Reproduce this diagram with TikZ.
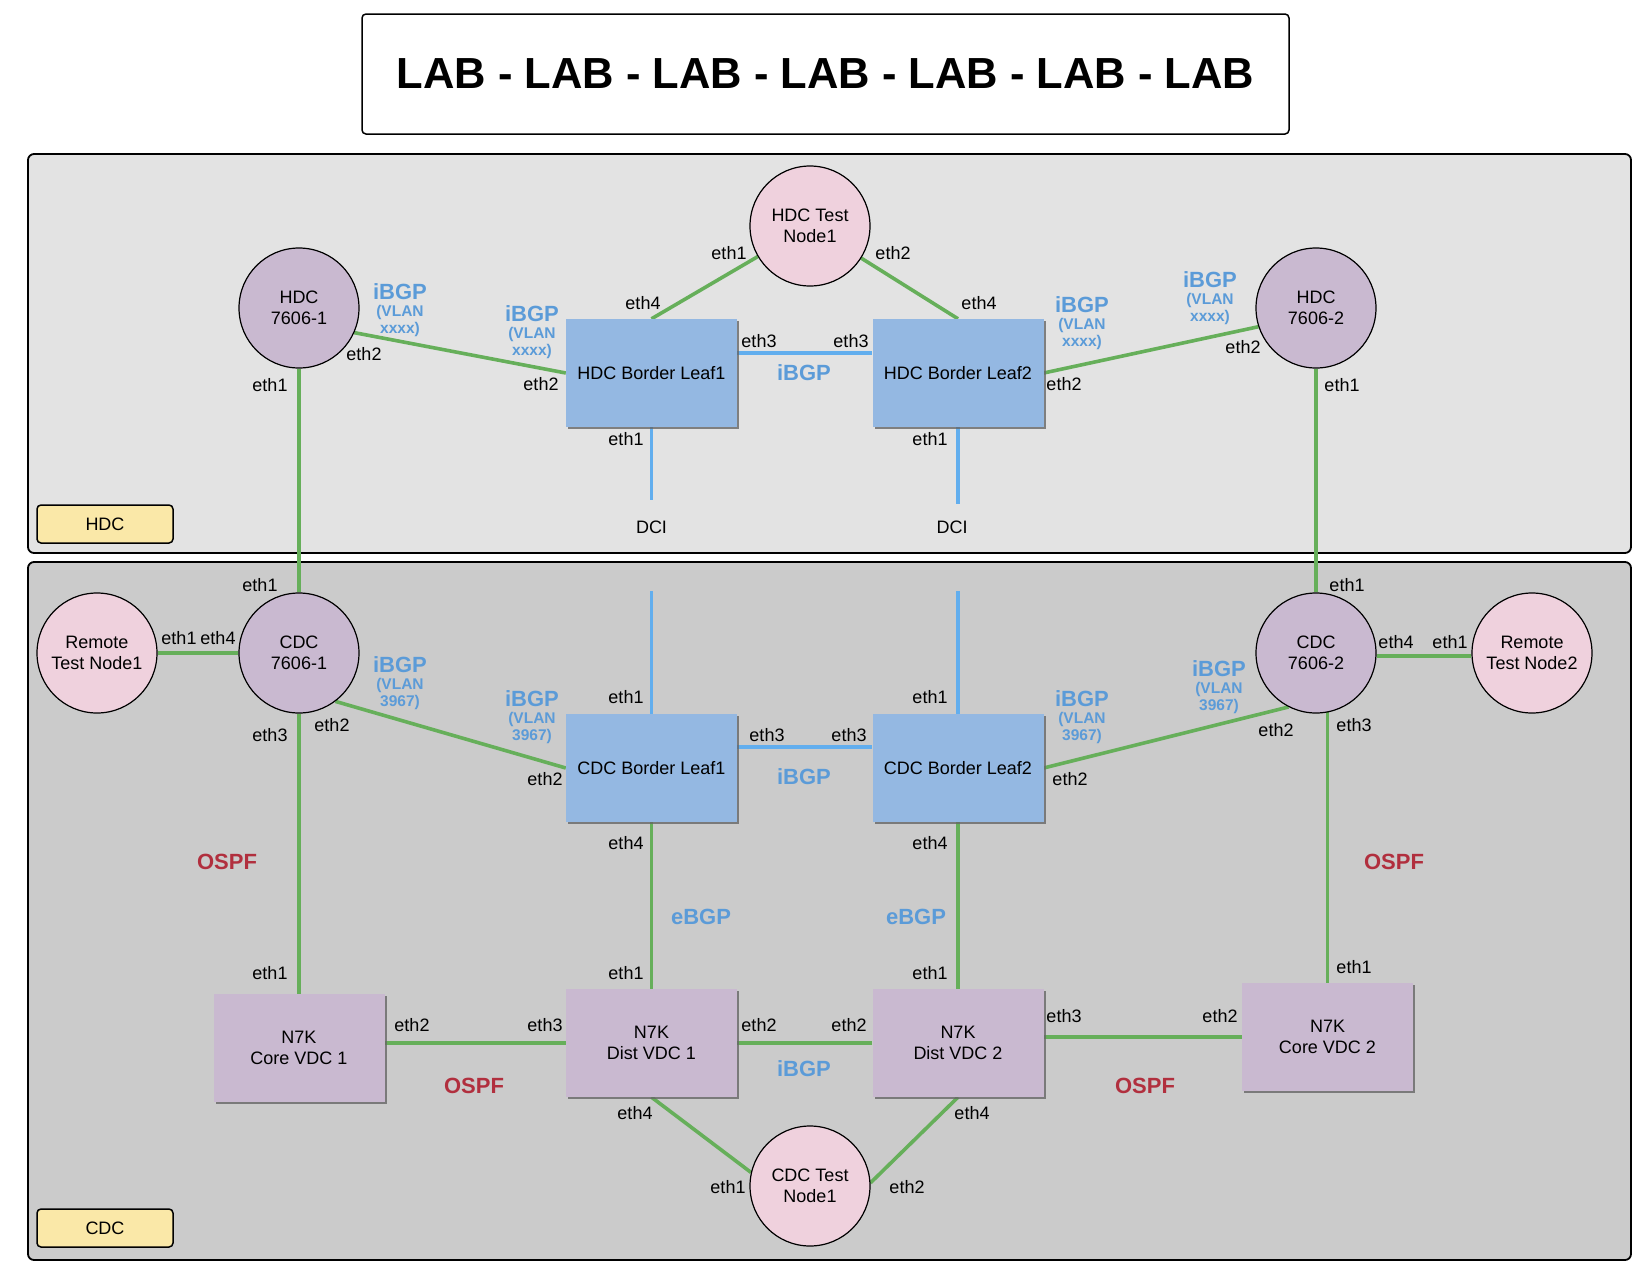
\documentclass[tikz,border=0pt]{standalone}
\usepackage{fontspec}
\setmainfont{Liberation Sans}
\usetikzlibrary{shadows}
\pgfdeclarelayer{back}
\pgfdeclarelayer{edges}
\pgfsetlayers{back,edges,main}
\definecolor{hdcbg}{HTML}{E3E3E3}
\definecolor{cdcbg}{HTML}{CBCBCB}
\definecolor{lav}{HTML}{C9B9D0}
\definecolor{pinkn}{HTML}{EFD1DD}
\definecolor{leafblue}{HTML}{94B8E2}
\definecolor{tagyellow}{HTML}{FAE8A8}
\definecolor{lgreen}{HTML}{66AF5A}
\definecolor{lblue}{HTML}{62AEEE}
\definecolor{txtblue}{HTML}{5B9BD8}
\definecolor{ospfred}{HTML}{B12F3E}
\newcommand\nfnt{\fontsize{18}{21}\selectfont}
\begin{document}
\begin{tikzpicture}[x=1pt,y=-1pt,
  dev/.style={circle,draw=black,line width=1.2pt,minimum size=120pt,inner sep=0pt,align=center,font=\nfnt},
  routr/.style={dev,fill=lav},
  tnode/.style={dev,fill=pinkn},
  devbox/.style={rectangle,minimum width=171pt,minimum height=108pt,inner sep=0pt,align=center,font=\nfnt,
    drop shadow={shadow xshift=2pt,shadow yshift=-2pt,fill=black!60,opacity=0.8}},
  leaf/.style={devbox,fill=leafblue},
  nsw/.style={devbox,fill=lav},
  eth/.style={font=\nfnt,inner sep=0pt},
  proto/.style={font={\fontsize{22}{24}\selectfont\bfseries},text=txtblue,inner sep=0pt},
  vlan/.style={font={\fontsize{15.5}{17}\selectfont\bfseries},text=txtblue,align=center,inner sep=0pt},
  ospf/.style={font={\fontsize{22}{24}\selectfont\bfseries},text=ospfred,inner sep=0pt},
  glink/.style={draw=lgreen,line width=3.6pt},
  blink/.style={draw=lblue,line width=3.8pt},
  tag/.style={draw=black,line width=1.5pt,fill=tagyellow,rounded corners=4pt,minimum width=136pt,minimum height=38pt,font=\nfnt,inner sep=0pt},
  zone/.style={draw=black,line width=1.8pt,rounded corners=6pt}
]
\useasboundingbox (0,0) rectangle (1650,1275);

% title
\node[draw=black,line width=1.5pt,rounded corners=4pt,minimum width=927pt,minimum height=120pt,inner sep=0pt,
  font={\fontsize{43.5}{50}\selectfont\bfseries}] (title) at (825.5,74) {LAB - LAB - LAB - LAB - LAB - LAB - LAB};

% zones
\begin{pgfonlayer}{back}
\fill[white] (0,0) rectangle (1650,1275);
\draw[zone,fill=hdcbg] (28,154) rectangle (1631,553);
\draw[zone,fill=cdcbg] (28,562) rectangle (1631,1260);
\end{pgfonlayer}
\node[tag] (hdctag) at (105,524) {HDC};
\node[tag] (cdctag) at (105,1228) {CDC};

% HDC devices
\node[routr] (h76a) at (299,308) {HDC\\7606-1};
\node[routr] (h76b) at (1316,308) {HDC\\7606-2};
\node[tnode] (ht) at (810,226) {HDC Test\\Node1};
\node[leaf] (hl1) at (651.5,373) {HDC Border Leaf1};
\node[leaf] (hl2) at (958,373) {HDC Border Leaf2};
\coordinate (dci1c) at (651.5,500);
\coordinate (dci2c) at (958,504);
\node[eth] (dci1) at (651.5,527) {DCI};
\node[eth] (dci2) at (952,527) {DCI};

% CDC devices
\node[routr] (c76a) at (299,653) {CDC\\7606-1};
\node[routr] (c76b) at (1316,653) {CDC\\7606-2};
\node[tnode] (rem1) at (97,653) {Remote\\Test Node1};
\node[tnode] (rem2) at (1532,653) {Remote\\Test Node2};
\node[leaf] (cl1) at (651.5,768) {CDC Border Leaf1};
\node[leaf] (cl2) at (958,768) {CDC Border Leaf2};
\node[nsw] (core1) at (299,1048) {N7K\\Core VDC 1};
\node[nsw] (dist1) at (651.5,1043) {N7K\\Dist VDC 1};
\node[nsw] (dist2) at (958,1043) {N7K\\Dist VDC 2};
\node[nsw] (core2) at (1327.5,1037) {N7K\\Core VDC 2};
\node[tnode] (ct) at (810,1186) {CDC Test\\Node1};
\coordinate (cup1) at (651.5,591);
\coordinate (cup2) at (958,591);

% links
\begin{pgfonlayer}{edges}
\draw[glink] (h76a.-24) -- (hl1.west);
\draw[glink] (h76a) -- (c76a);
\draw[glink] (ht) -- (hl1.north);
\draw[glink] (ht) -- (hl2.north);
\draw[blink] ([yshift=20pt]hl1.east) -- ([yshift=20pt]hl2.west);
\draw[glink] (hl2.east) -- (h76b.198);
\draw[glink] (h76b) -- (c76b);
\draw[blink] (hl1.south) -- (dci1c);
\draw[blink] (hl2.south) -- (dci2c);
\draw[glink] (rem1) -- (c76a);
\draw[glink] (c76a.-53) -- (cl1.west);
\draw[glink] (c76a.south) -- (core1.north);
\draw[blink] (cup1) -- (cl1.north);
\draw[blink] (cup2) -- (cl2.north);
\draw[blink] ([yshift=21pt]cl1.east) -- ([yshift=21pt]cl2.west);
\draw[glink] (cl1.south) -- (dist1.north);
\draw[glink] (cl2.south) -- (dist2.north);
\draw[glink] (cl2.east) -- (c76b.-117);
\draw[glink] (c76b.-3.8) -- (rem2.183.8);
\draw[glink] (core2.north |- c76b.-79.4) -- (core2.north);
\draw[glink] (core1.east |- dist1.west) -- (dist1.west);
\draw[glink] (dist1.east) -- (dist2.west);
\draw[glink] (dist2.east |- core2.west) -- (core2.west);
\draw[glink] (dist1.south) -- (ct.167);
\draw[glink] (ct.3) -- (dist2.south);
\end{pgfonlayer}

% HDC labels
\node[eth] (e1) at (270,385) {eth1};
\node[eth] (e2) at (364,354) {eth2};
\node[proto] (p1) at (400,292) {iBGP};
\node[vlan] (v1) at (400,320.5) {(VLAN\\xxxx)};
\node[proto] (p2) at (532,314) {iBGP};
\node[vlan] (v2) at (532,343) {(VLAN\\xxxx)};
\node[eth] (e3) at (541,384) {eth2};
\node[eth] (e4) at (729,253) {eth1};
\node[eth] (e5) at (893,253) {eth2};
\node[eth] (e6) at (643,303) {eth4};
\node[eth] (e7) at (979,303) {eth4};
\node[eth] (e8) at (759,341) {eth3};
\node[eth] (e9) at (851,341) {eth3};
\node[proto] (p3) at (804,373) {iBGP};
\node[eth] (e10) at (626,439) {eth1};
\node[eth] (e11) at (930,439) {eth1};
\node[eth] (e12) at (1064,384) {eth2};
\node[proto] (p4) at (1082,305) {iBGP};
\node[vlan] (v4) at (1082,333.5) {(VLAN\\xxxx)};
\node[proto] (p5) at (1210,280) {iBGP};
\node[vlan] (v5) at (1210,309) {(VLAN\\xxxx)};
\node[eth] (e13) at (1243,347) {eth2};
\node[eth] (e14) at (1342,385) {eth1};

% CDC labels
\node[eth] (e15) at (260,585) {eth1};
\node[eth] (e16) at (179,638) {eth1};
\node[eth] (e17) at (218,638) {eth4};
\node[eth] (e18) at (270,735) {eth3};
\node[eth] (e19) at (332,725) {eth2};
\node[proto] (p6) at (400,665) {iBGP};
\node[vlan] (v6) at (400,693.5) {(VLAN\\3967)};
\node[proto] (p7) at (532,699) {iBGP};
\node[vlan] (v7) at (532,728) {(VLAN\\3967)};
\node[eth] (e20) at (545,779) {eth2};
\node[ospf] (o1) at (227,862) {OSPF};
\node[eth] (e21) at (270,973) {eth1};
\node[eth] (e22) at (626,697) {eth1};
\node[eth] (e23) at (930,697) {eth1};
\node[eth] (e24) at (767,735) {eth3};
\node[eth] (e25) at (849,735) {eth3};
\node[proto] (p8) at (804,777) {iBGP};
\node[eth] (e26) at (626,843) {eth4};
\node[eth] (e27) at (930,843) {eth4};
\node[proto] (p9) at (701,917) {eBGP};
\node[proto] (p10) at (916,917) {eBGP};
\node[eth] (e28) at (626,973) {eth1};
\node[eth] (e29) at (930,973) {eth1};
\node[eth] (e30) at (1070,779) {eth2};
\node[proto] (p11) at (1219,669) {iBGP};
\node[vlan] (v11) at (1219,697.5) {(VLAN\\3967)};
\node[proto] (p12) at (1082,699) {iBGP};
\node[vlan] (v12) at (1082,728) {(VLAN\\3967)};
\node[eth] (e31) at (1276,730) {eth2};
\node[eth] (e32) at (1354,725) {eth3};
\node[eth] (e33) at (1347,585) {eth1};
\node[eth] (e34) at (1396,642) {eth4};
\node[eth] (e35) at (1450,642) {eth1};
\node[ospf] (o2) at (1394,862) {OSPF};
\node[eth] (e36) at (1354,967) {eth1};
\node[eth] (e37) at (412,1025) {eth2};
\node[eth] (e38) at (545,1025) {eth3};
\node[ospf] (o3) at (474,1086) {OSPF};
\node[eth] (e39) at (759,1025) {eth2};
\node[eth] (e40) at (849,1025) {eth2};
\node[proto] (p13) at (804,1069) {iBGP};
\node[eth] (e41) at (1064,1016) {eth3};
\node[eth] (e42) at (1220,1016) {eth2};
\node[ospf] (o4) at (1145,1086) {OSPF};
\node[eth] (e43) at (635,1113) {eth4};
\node[eth] (e44) at (972,1113) {eth4};
\node[eth] (e45) at (728,1187) {eth1};
\node[eth] (e46) at (907,1187) {eth2};
\end{tikzpicture}
\end{document}
